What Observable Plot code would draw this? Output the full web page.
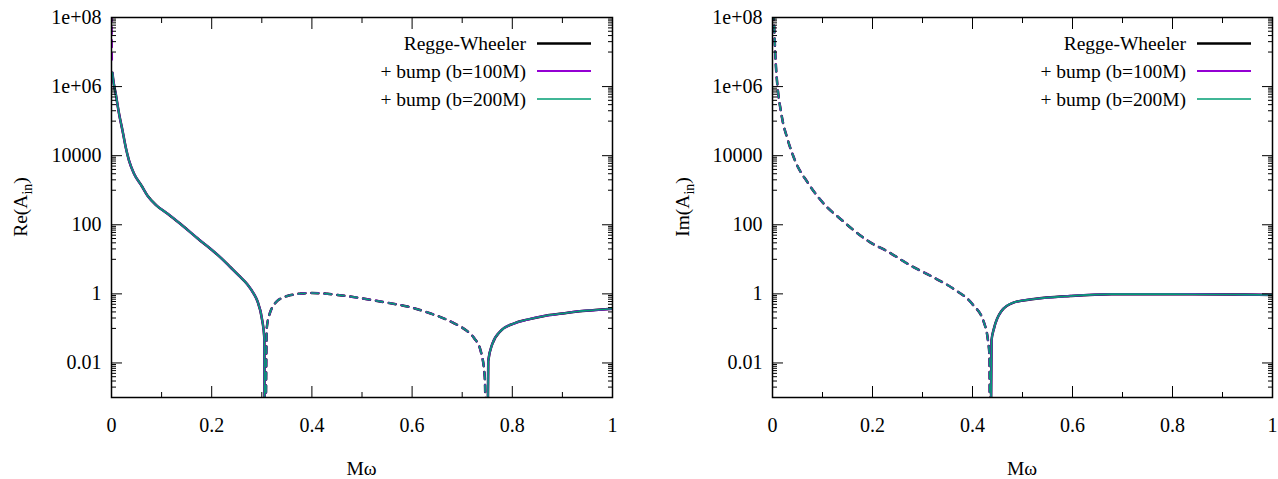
<!DOCTYPE html>
<html><head><meta charset="utf-8">
<script src="https://cdn.jsdelivr.net/npm/d3@7"></script>
<script src="https://cdn.jsdelivr.net/npm/@observablehq/plot@0.6"></script>
<style>
body{margin:0;background:#fff;}
#wrap{display:flex;width:1278px;height:479px;overflow:hidden;}
#wrap svg text{font-family:"Liberation Serif",serif !important;}
</style></head><body><div id="wrap"></div>
<script>
// ---------- data ----------
const seriesNames = ["Regge-Wheeler", "+ bump (b=100M)", "+ bump (b=200M)"];
const seriesColors = ["#000000", "#9400d3", "#009e73"];

// Re(A_in): signed values (negative = dashed), 0 = zero crossing
const reOmega = [0.002, 0.003, 0.0086, 0.0152, 0.022, 0.0286, 0.035, 0.045, 0.06, 0.072, 0.09, 0.112, 0.138, 0.175, 0.198, 0.22, 0.238, 0.255, 0.271, 0.285, 0.291, 0.301, 0.305, 0.3067, 0.310, 0.3166, 0.323, 0.331, 0.34, 0.351, 0.365, 0.378, 0.40, 0.431, 0.47, 0.518, 0.555, 0.591, 0.637, 0.665, 0.684, 0.707, 0.724, 0.737, 0.745, 0.749, 0.752, 0.760, 0.777, 0.804, 0.83, 0.864, 0.90, 0.93, 0.965, 1.0];
const reRW = [2.5e6, 1.8e6, 6e5, 1.6e5, 5.3e4, 1.7e4, 7.2e3, 3.0e3, 1.35e3, 690, 360, 210, 105, 37, 20, 10.5, 5.8, 3.3, 1.9, 0.95, 0.63, 0.166, 0.054, 0, -0.105, -0.29, -0.45, -0.63, -0.76, -0.87, -0.96, -1.02, -1.06, -1.0, -0.86, -0.67, -0.54, -0.43, -0.27, -0.19, -0.14, -0.09, -0.052, -0.022, -0.004, 0, 0.0114, 0.035, 0.085, 0.14, 0.18, 0.23, 0.27, 0.31, 0.34, 0.37];
const reB100Omega = [0.0003, 0.0006, 0.0009].concat(reOmega);
const reB100 = [-3e8, -4e7, -6e6].concat(reRW);
const reB200 = reRW.slice();

// Im(A_in)
const imOmega = [0.0025, 0.003, 0.0045, 0.0066, 0.010, 0.0166, 0.021, 0.028, 0.0466, 0.070, 0.103, 0.1366, 0.1765, 0.1955, 0.228, 0.277, 0.322, 0.363, 0.400, 0.423, 0.431, 0.434, 0.4352, 0.438, 0.443, 0.458, 0.482, 0.523, 0.596, 0.678, 0.80, 0.924, 1.0];
const imRW = [-1.4e8, -8e7, -2e7, -4.5e6, -1e6, -2e5, -9e4, -3.8e4, -6.4e3, -1.7e3, -400, -145, -48, -31, -17.6, -6.5, -3.0, -1.37, -0.50, -0.147, -0.044, -0.016, 0, 0.044, 0.10, 0.32, 0.56, 0.71, 0.87, 0.98, 0.98, 0.96, 0.93];
const imB100 = imRW.slice();
const imB200 = imRW.slice();

// ticks
const xMajor = [0, 0.2, 0.4, 0.6, 0.8, 1];
const xTickLabels = ["0", "0.2", "0.4", "0.6", "0.8", "1"];
const xMinor = [0.1, 0.3, 0.5, 0.7, 0.9];
const yMajor = [1e-2, 1, 1e2, 1e4, 1e6, 1e8];
const yTickLabels = ["0.01", "1", "100", "10000", "1e+06", "1e+08"];
const yMinorMantissa = [1, 2, 3, 4, 5, 6, 7, 8, 9];
const yMinorExponents = [-3, -1, 1, 3, 5, 7];

// ---------- helpers ----------
const yMinor = [];
for (const e of yMinorExponents) for (const m of yMinorMantissa) {
  if (e === -3 && m === 1) continue;
  yMinor.push(m * Math.pow(10, e));
}
const TINY = 1e-7;
function buildRows(omega, values, name) {
  const rows = [];
  let seg = 0, lastSign = null;
  for (let i = 0; i < omega.length; i++) {
    const v = values[i];
    if (v === 0) {
      if (i > 0) rows.push({x: omega[i], a: TINY, seg});
      seg++; lastSign = null;
      if (i < omega.length - 1) rows.push({x: omega[i], a: TINY, seg});
    } else {
      const sg = v < 0;
      if (lastSign !== null && sg !== lastSign) seg++;
      lastSign = sg;
      rows.push({x: omega[i], a: Math.abs(v), v, seg});
    }
  }
  const neg = new Map();
  for (const r of rows) if (r.v !== undefined) neg.set(r.seg, r.v < 0);
  for (const r of rows) { r.neg = neg.get(r.seg); r.z = name + "-" + r.seg; }
  return rows;
}

const W = 639, H = 479, MT = 17, MB = 82;
const widths = [2.5, 2.2, 1.6];
const FONT = "Liberation Serif, serif";

function panel(series, labelMain, marginLeft, marginRight, yLabelX) {
  const marks = [];
  series.forEach((s, k) => {
    const rows = buildRows(s.omega, s.values, s.name);
    marks.push(Plot.line(rows.filter(r => !r.neg), {x: "x", y: "a", z: "z", stroke: seriesColors[k], strokeWidth: widths[k], curve: "monotone-x", clip: true}));
    marks.push(Plot.line(rows.filter(r => r.neg), {x: "x", y: "a", z: "z", stroke: seriesColors[k], strokeWidth: widths[k], strokeDasharray: "7,6", curve: "monotone-x", clip: true}));
  });
  marks.push(
    Plot.axisX(xMajor, {anchor: "bottom", tickSize: -11, fill: "none", label: null}),
    Plot.axisX(xMajor, {anchor: "top", tickSize: -11, fill: "none", label: null}),
    Plot.axisX(xMinor, {anchor: "bottom", tickSize: -5, fill: "none", label: null}),
    Plot.axisX(xMinor, {anchor: "top", tickSize: -5, fill: "none", label: null}),
    Plot.axisX(xMajor, {anchor: "bottom", tickSize: 0, tickPadding: 20, fontSize: 20, tickFormat: d => xTickLabels[xMajor.indexOf(d)], label: null}),
    Plot.axisY(yMajor, {anchor: "left", tickSize: -11, fill: "none", label: null}),
    Plot.axisY(yMajor, {anchor: "right", tickSize: -11, fill: "none", label: null}),
    Plot.axisY(yMinor, {anchor: "left", tickSize: -5, fill: "none", label: null}),
    Plot.axisY(yMinor, {anchor: "right", tickSize: -5, fill: "none", label: null}),
    Plot.axisY(yMajor, {anchor: "left", tickSize: 0, tickPadding: 10, fontSize: 20, tickFormat: d => yTickLabels[yMajor.indexOf(d)], label: null}),
    Plot.frame({stroke: "black", strokeWidth: 1.5})
  );
  const svgEl = Plot.plot({
    width: W, height: H, marginTop: MT, marginBottom: MB, marginLeft, marginRight,
    x: {domain: [0, 1]},
    y: {type: "log", domain: [1e-3, 1e8]},
    style: {fontFamily: FONT, fontSize: "20px", color: "black", background: "white", overflow: "visible"},
    marks
  });
  const svg = d3.select(svgEl);
  svg.attr("font-family", FONT);
  const frameRight = W - marginRight;
  const rowY = [43.5, 71, 99];
  series.forEach((s, k) => {
    svg.append("text").attr("x", frameRight - 86).attr("y", rowY[k]).attr("dy", "0.35em")
      .attr("text-anchor", "end").attr("font-size", 19.5).attr("fill", "black").text(s.name);
    svg.append("line").attr("x1", frameRight - 75).attr("x2", frameRight - 21)
      .attr("y1", rowY[k]).attr("y2", rowY[k]).attr("stroke", seriesColors[k]).attr("stroke-width", widths[k]);
  });
  const yl = svg.append("text")
    .attr("transform", `translate(${yLabelX},${(MT + H - MB) / 2}) rotate(-90)`)
    .attr("text-anchor", "middle").attr("font-size", 19.5).attr("fill", "black");
  yl.append("tspan").text(labelMain + "(A");
  yl.append("tspan").attr("font-size", 14).attr("dy", 5).text("in");
  yl.append("tspan").attr("dy", -5).text(")");
  svg.append("text").attr("x", marginLeft + (W - marginLeft - marginRight) / 2).attr("y", 475)
    .attr("text-anchor", "middle").attr("font-size", 19.5).attr("fill", "black").text("Mω");
  svg.selectAll("text").attr("font-family", FONT).style("font-family", FONT);
  return svgEl;
}

const reSeries = [
  {name: seriesNames[0], omega: reOmega, values: reRW},
  {name: seriesNames[1], omega: reB100Omega, values: reB100},
  {name: seriesNames[2], omega: reOmega, values: reB200}
];
const imSeries = [
  {name: seriesNames[0], omega: imOmega, values: imRW},
  {name: seriesNames[1], omega: imOmega, values: imB100},
  {name: seriesNames[2], omega: imOmega, values: imB200}
];
const wrap = document.getElementById("wrap");
wrap.appendChild(panel(reSeries, "Re", 111, 27, 27));
wrap.appendChild(panel(imSeries, "Im", 133, 6, 50));
</script></body></html>
